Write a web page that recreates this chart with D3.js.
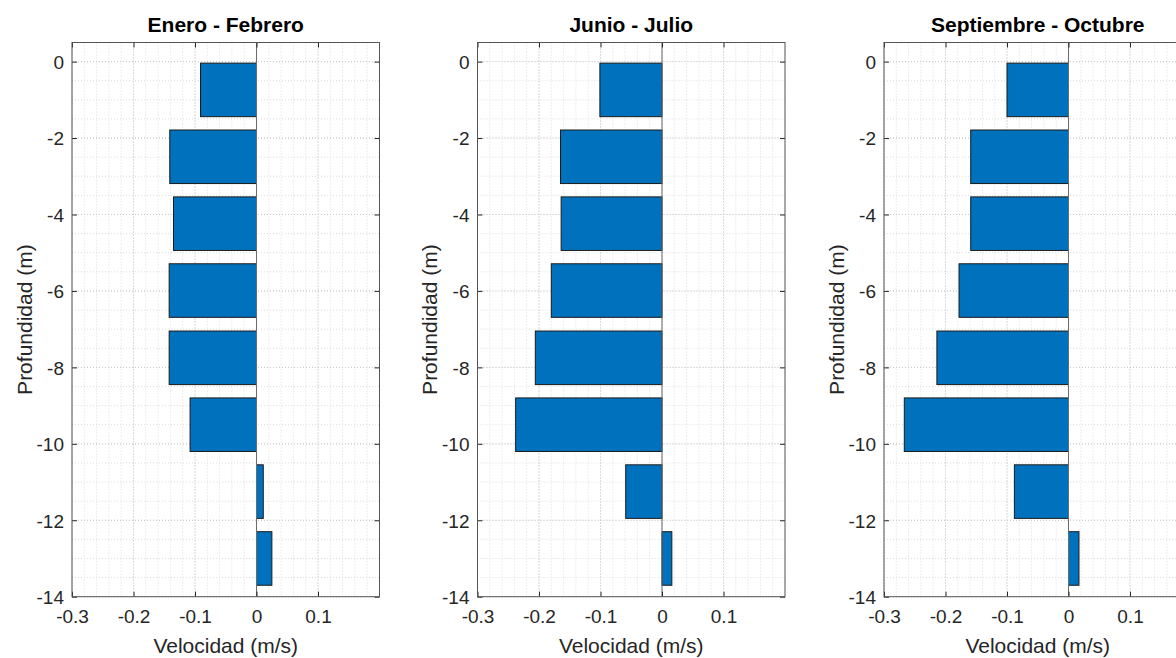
<!DOCTYPE html>
<html>
<head>
<meta charset="utf-8">
<script src="https://cdn.jsdelivr.net/npm/d3@7"></script>
<style>
  body { margin: 0; background: #fff; }
  svg { display: block; font-family: "Liberation Sans", Arial, Helvetica, sans-serif; }
</style>
</head>
<body>
<svg id="chart" width="1176" height="658"></svg>
<script>
// Velocity profiles by depth for three seasonal periods
const titles = ["Enero - Febrero", "Junio - Julio", "Septiembre - Octubre"];
const depths = [-0.74, -2.49, -4.24, -5.99, -7.75, -9.50, -11.25, -13.0];
const eneroFebrero      = [-0.091, -0.141, -0.135, -0.142, -0.142, -0.108, 0.011, 0.025];
const junioJulio        = [-0.101, -0.165, -0.164, -0.180, -0.206, -0.238, -0.059, 0.016];
const septiembreOctubre = [-0.100, -0.159, -0.159, -0.178, -0.214, -0.267, -0.088, 0.017];
const xTicks = [-0.3, -0.2, -0.1, 0, 0.1];
const yTicks = [0, -2, -4, -6, -8, -10, -12, -14];
const xLabel = "Velocidad (m/s)";
const yLabel = "Profundidad (m)";

const series = [eneroFebrero, junioJulio, septiembreOctubre];

const svg = d3.select("#chart");
const panelLefts = [72, 477.5, 884];
const panelW = 307.5, panelTop = 42.5, panelH = 554.2;
const axisColor = "#262626";
const barFill = "#0072BD";

// bar thickness: 80% of depth spacing
const spacing = d3.mean(d3.pairs(depths), p => Math.abs(p[1] - p[0]));
const half = spacing * 0.8 / 2;

series.forEach((vals, i) => {
  const g = svg.append("g").attr("transform", `translate(${panelLefts[i]},${panelTop})`);
  const x = d3.scaleLinear().domain([-0.3, 0.2]).range([0, panelW]);
  const y = d3.scaleLinear().domain([-14, 0.5]).range([panelH, 0]);

  // minor grid
  const minorX = d3.range(-0.3, 0.2001, 0.02).map(v => +v.toFixed(3));
  const minorY = d3.range(-14, 0.5001, 0.5).map(v => +v.toFixed(3));
  const grid = g.append("g").attr("stroke-dasharray", "1,2").attr("stroke-width", 1);
  grid.selectAll(".mx").data(minorX).join("line")
    .attr("x1", d => x(d)).attr("x2", d => x(d)).attr("y1", 0).attr("y2", panelH)
    .attr("stroke", "#dcdcdc");
  grid.selectAll(".my").data(minorY).join("line")
    .attr("x1", 0).attr("x2", panelW).attr("y1", d => y(d)).attr("y2", d => y(d))
    .attr("stroke", "#dcdcdc");
  // major grid
  grid.selectAll(".gx").data(xTicks).join("line")
    .attr("x1", d => x(d)).attr("x2", d => x(d)).attr("y1", 0).attr("y2", panelH)
    .attr("stroke", "#c8c8c8");
  grid.selectAll(".gy").data(yTicks).join("line")
    .attr("x1", 0).attr("x2", panelW).attr("y1", d => y(d)).attr("y2", d => y(d))
    .attr("stroke", "#c8c8c8");

  // bars
  g.append("g").selectAll("rect").data(vals.map((v, k) => ({ v, d: depths[k] }))).join("rect")
    .attr("x", d => Math.min(x(0), x(d.v)))
    .attr("width", d => Math.abs(x(d.v) - x(0)))
    .attr("y", d => y(d.d + half))
    .attr("height", d => y(d.d - half) - y(d.d + half))
    .attr("fill", barFill)
    .attr("stroke", "#1a1a1a")
    .attr("stroke-width", 1);

  // baseline at zero
  g.append("line")
    .attr("x1", x(0)).attr("x2", x(0)).attr("y1", 0).attr("y2", panelH)
    .attr("stroke", "#6b6b6b").attr("stroke-width", 1);

  const fmt = d => String(d);
  const styleAxis = sel => {
    sel.select(".domain").remove();
    sel.selectAll(".tick line").attr("stroke", axisColor);
    sel.selectAll(".tick text").attr("fill", axisColor).style("font-size", "19px");
  };

  g.append("g").attr("transform", `translate(0,${panelH})`)
    .call(d3.axisBottom(x).tickValues(xTicks).tickFormat(fmt).tickSize(-5).tickPadding(13))
    .call(styleAxis);
  g.append("g")
    .call(d3.axisTop(x).tickValues(xTicks).tickFormat("").tickSize(-5))
    .call(styleAxis);
  g.append("g")
    .call(d3.axisLeft(y).tickValues(yTicks).tickFormat(fmt).tickSize(-5).tickPadding(8))
    .call(styleAxis)
    .selectAll(".tick text").attr("dy", "0.36em");
  g.append("g").attr("transform", `translate(${panelW},0)`)
    .call(d3.axisRight(y).tickValues(yTicks).tickFormat("").tickSize(-5))
    .call(styleAxis);

  // box
  g.append("rect").attr("x", 0).attr("y", 0).attr("width", panelW).attr("height", panelH)
    .attr("fill", "none").attr("stroke", "#555").attr("stroke-width", 1);

  // title and labels
  g.append("text").attr("x", panelW / 2).attr("y", 31.7 - panelTop)
    .attr("text-anchor", "middle").attr("font-weight", "bold").style("font-size", "21px")
    .attr("fill", "#000").text(titles[i]);
  g.append("text").attr("x", x(-0.05)).attr("y", 652.7 - panelTop)
    .attr("text-anchor", "middle").style("font-size", "21px")
    .attr("fill", axisColor).text(xLabel);
  g.append("text")
    .attr("transform", `translate(-40.5,${panelH / 2}) rotate(-90)`)
    .attr("text-anchor", "middle").style("font-size", "21px")
    .attr("fill", axisColor).text(yLabel);
});
</script>
</body>
</html>
